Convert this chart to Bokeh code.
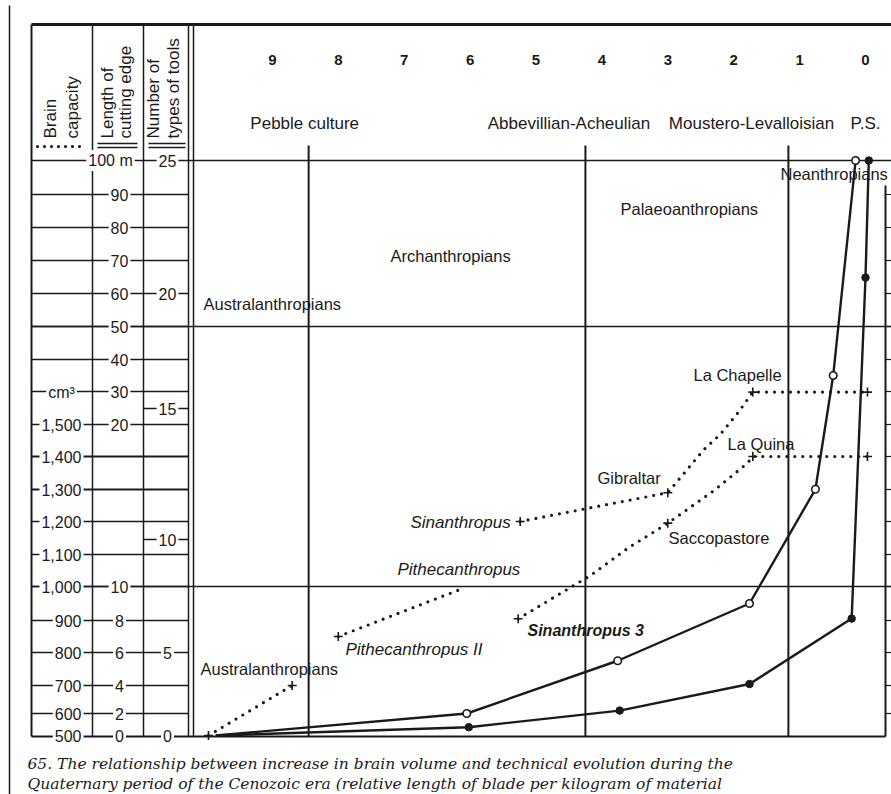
import numpy as np
from bokeh.plotting import figure
from bokeh.models import Range1d
from bokeh.embed import file_html
from bokeh.resources import INLINE
from bokeh.core.properties import value

# ---------------- data ----------------
time_values = [9, 8, 7, 6, 5, 4, 3, 2, 1, 0]
time_labels = ["9", "8", "7", "6", "5", "4", "3", "2", "1", "0"]

culture_names = ["Pebble culture", "Abbevillian-Acheulian", "Moustero-Levalloisian", "P.S."]
culture_centres = [8.51, 4.50, 1.73, 0.0]
culture_breaks = [8.45, 4.25, 1.17]

brain_ticks = [500, 600, 700, 800, 900, 1000, 1100, 1200, 1300, 1400, 1500]
brain_tick_labels = ["500", "600", "700", "800", "900", "1,000", "1,100", "1,200", "1,300", "1,400", "1,500"]
length_ticks = [0, 2, 4, 6, 8, 10, 20, 30, 40, 50, 60, 70, 80, 90, 100]
length_tick_labels = ["0", "2", "4", "6", "8", "10", "20", "30", "40", "50", "60", "70", "80", "90", "100 m"]
tools_ticks = [0, 5, 10, 15, 20, 25]
tools_tick_labels = ["0", "5", "10", "15", "20", "25"]

# brain capacity (cm3), dotted lines, + = specimen
austral_t = [9.97, 8.70]
austral_cc = [500, 700]
austral_mark = [True, True]
pithec_t = [8.00, 6.10]
pithec_cc = [850, 995]
pithec_mark = [True, False]
sinan_t = [5.24, 3.00, 2.46, 2.20, 1.94, 1.71, -0.03]
sinan_cc = [1200, 1290, 1420, 1470, 1535, 1600, 1600]
sinan_mark = [True, True, False, False, False, True, True]
sin3_t = [5.27, 4.17, 3.60, 3.00, 2.31, 1.79, 1.71, -0.03]
sin3_cc = [905, 1035, 1120, 1195, 1295, 1380, 1400, 1400]
sin3_mark = [True, False, False, True, False, False, True, True]

# length of cutting edge (m), open circles
length_t = [9.86, 6.05, 3.76, 1.76, 0.76, 0.49, 0.15]
length_m = [0, 2, 5.5, 9, 16, 35, 100]
# number of types of tools, filled circles
tools_t = [9.86, 6.02, 3.73, 1.76, 0.21, 0.0, -0.05]
tools_n = [0, 0.5, 1.5, 3.1, 6.5, 20.6, 25]

caption_lines = [
    "65. The relationship between increase in brain volume and technical evolution during the",
    "Quaternary period of the Cenozoic era (relative length of blade per kilogram of material",
]

# ---------------- scales (layout) ----------------
brain_pos = [735, 713, 685, 652, 620, 586, 554, 521, 489, 456, 424]
length_pos = [735, 713, 685, 652, 620, 586, 424, 391, 359, 326, 293, 260, 227, 194, 160]
tools_pos = [735, 652, 539, 408, 293, 160]

def X(t):
    return 865.0 - 65.9 * np.asarray(t, dtype=float)

def YB(v):
    return np.interp(v, brain_ticks + [2000], brain_pos + [262])

def YL(v):
    return np.interp(v, length_ticks, length_pos)

def YT(v):
    return np.interp(v, tools_ticks, tools_pos)

def fl(a):
    return [float(v) for v in a]

SANS = value("Liberation Sans")
INK = "#1a1a1a"

p = figure(width=891, height=794, x_range=Range1d(0, 891), y_range=Range1d(794, 0),
           output_backend="svg", toolbar_location=None, min_border=0)
p.axis.visible = False
p.grid.visible = False
p.outline_line_color = None
p.background_fill_color = "white"
p.border_fill_color = "white"

def seg(x0, y0, x1, y1, w=1.3, dash="solid"):
    p.segment(x0=x0, y0=y0, x1=x1, y1=y1, line_color=INK, line_width=w, line_dash=dash)

# page edge line
seg([9], [5], [9], [794], 1.5)
# frame
seg([31], [24], [891], [24], 3)
seg([31], [24], [31], [736], 2)
seg([92, 143, 188, 193], [24] * 4, [92, 143, 188, 193], [736] * 4, 1.5)
seg([31], [736], [885], [736], 1.8)
seg([885], [185], [885], [736], 2)
# full width horizontal lines
full_rows = fl([YL(100), YL(50), YL(10)])
seg([31] * 3, full_rows, [891] * 3, full_rows, 1.3)
# right side ticks
rt = sorted(set(fl(brain_pos[1:]) + fl(length_pos[6:14])))
rt = [v for v in rt if v > 185]
seg([885] * len(rt), rt, [891] * len(rt), rt, 1.2)
# culture separators
cb = fl(X(culture_breaks))
seg(cb, [145] * 3, cb, [736] * 3, 2)

# left column rows
rows = sorted(set(fl(YB(brain_ticks)) + fl(YL(length_ticks))))
rows = [r for r in rows if 165 < r < 730]
for r in rows:
    w = 2.2 if (abs(r - YB(1300)) < 1 or abs(r - YB(1400)) < 1) else 1.3
    seg([31], [r], [188], [r], w)
tool_only = fl([YT(10), YT(15)])
seg([143] * 2, tool_only, [188] * 2, tool_only, 1.3)

lab_kw = dict(text_font=SANS, text_font_size="16px", text_color=INK, text_baseline="middle",
              background_fill_color="white", padding=2)
# brain labels
p.text(x=[83] * len(brain_ticks), y=fl(YB(brain_ticks)), text=brain_tick_labels,
       text_align="right", **lab_kw)
p.text(x=[61], y=[float(YB(1600))], text=["cm³"], text_align="center", **lab_kw)
# length labels
lx = [119] * (len(length_ticks) - 1) + [110]
p.text(x=lx, y=fl(YL(length_ticks)), text=length_tick_labels, text_align="center", **lab_kw)
# tools labels
p.text(x=[167] * len(tools_ticks), y=fl(YT(tools_ticks)), text=tools_tick_labels,
       text_align="center", **lab_kw)

# header (rotated)
hx = [50, 72, 107, 125, 153, 173]
htxt = ["Brain", "capacity", "Length of", "cutting edge", "Number of", "types of tools"]
p.text(x=hx, y=[138] * 6, text=htxt, angle=np.pi / 2, text_align="left", text_baseline="middle",
       text_font=SANS, text_font_size="17px", text_color=INK)
p.line(x=[37, 85], y=[146, 146], line_color=INK, line_width=3.2, line_dash="0 7", line_cap="round")
seg([97, 97, 148, 148], [143, 147, 143, 147], [137, 137, 185, 185], [143, 147, 143, 147], 1.3)

# top time numbers
p.text(x=fl(X(time_values)), y=[59] * 10, text=time_labels, text_align="center",
       text_baseline="middle", text_font=SANS, text_font_size="15px", text_font_style="bold",
       text_color=INK)
# cultures
p.text(x=fl(X(culture_centres)), y=[123] * 4, text=culture_names, text_align="center",
       text_baseline="middle", text_font=SANS, text_font_size="17px", text_color=INK)

# ---------------- series ----------------
DOT = dict(line_color=INK, line_width=3.2, line_dash="0 8", line_cap="round")
for ts, vs, mk in [(austral_t, austral_cc, austral_mark), (pithec_t, pithec_cc, pithec_mark),
                   (sinan_t, sinan_cc, sinan_mark), (sin3_t, sin3_cc, sin3_mark)]:
    xs = fl(X(ts))
    ys = fl(YB(vs))
    p.line(x=xs, y=ys, **DOT)
    mx = [x for x, m in zip(xs, mk) if m]
    my = [y for y, m in zip(ys, mk) if m]
    p.scatter(x=mx, y=my, marker="cross", size=9, line_color=INK, line_width=1.6)

p.line(x=fl(X(length_t)), y=fl(YL(length_m)), line_color=INK, line_width=2.4)
p.scatter(x=fl(X(length_t[1:])), y=fl(YL(length_m[1:])), marker="circle",
          size=7.5, fill_color="white", line_color=INK, line_width=1.6)
p.line(x=fl(X(tools_t)), y=fl(YT(tools_n)), line_color=INK, line_width=2.4)
p.scatter(x=fl(X(tools_t[1:])), y=fl(YT(tools_n[1:])), marker="circle",
          size=7.5, fill_color=INK, line_color=INK, line_width=1)

# ---------------- labels in plot ----------------
plain = [("Australanthropians", 203, 303), ("Archanthropians", 390, 255),
         ("Palaeoanthropians", 620, 208), ("Neanthropians", 780, 173),
         ("La Chapelle", 693, 374), ("La Quina", 727, 443), ("Gibraltar", 597, 477),
         ("Saccopastore", 668, 537), ("Australanthropians", 200, 668)]
p.text(x=[a[1] for a in plain], y=[a[2] for a in plain], text=[a[0] for a in plain],
       text_align="left", text_baseline="middle", text_font=SANS, text_font_size="16.5px",
       text_color=INK)
ital = [("Sinanthropus", 410, 522), ("Pithecanthropus", 397, 569), ("Pithecanthropus II", 345, 649)]
p.text(x=[a[1] for a in ital], y=[a[2] for a in ital], text=[a[0] for a in ital],
       text_align="left", text_baseline="middle", text_font=SANS, text_font_size="17px",
       text_font_style="italic", text_color=INK)
p.text(x=[527], y=[630], text=["Sinanthropus 3"], text_align="left", text_baseline="middle",
       text_font=SANS, text_font_size="16px", text_font_style="bold italic", text_color=INK)

# caption
p.text(x=[27, 27], y=[763, 783], text=caption_lines, text_align="left", text_baseline="middle",
       text_font=value("DejaVu Serif"), text_font_size="15.5px", text_font_style="italic",
       text_color=INK)

open("out.html", "w").write(file_html(p, INLINE))
